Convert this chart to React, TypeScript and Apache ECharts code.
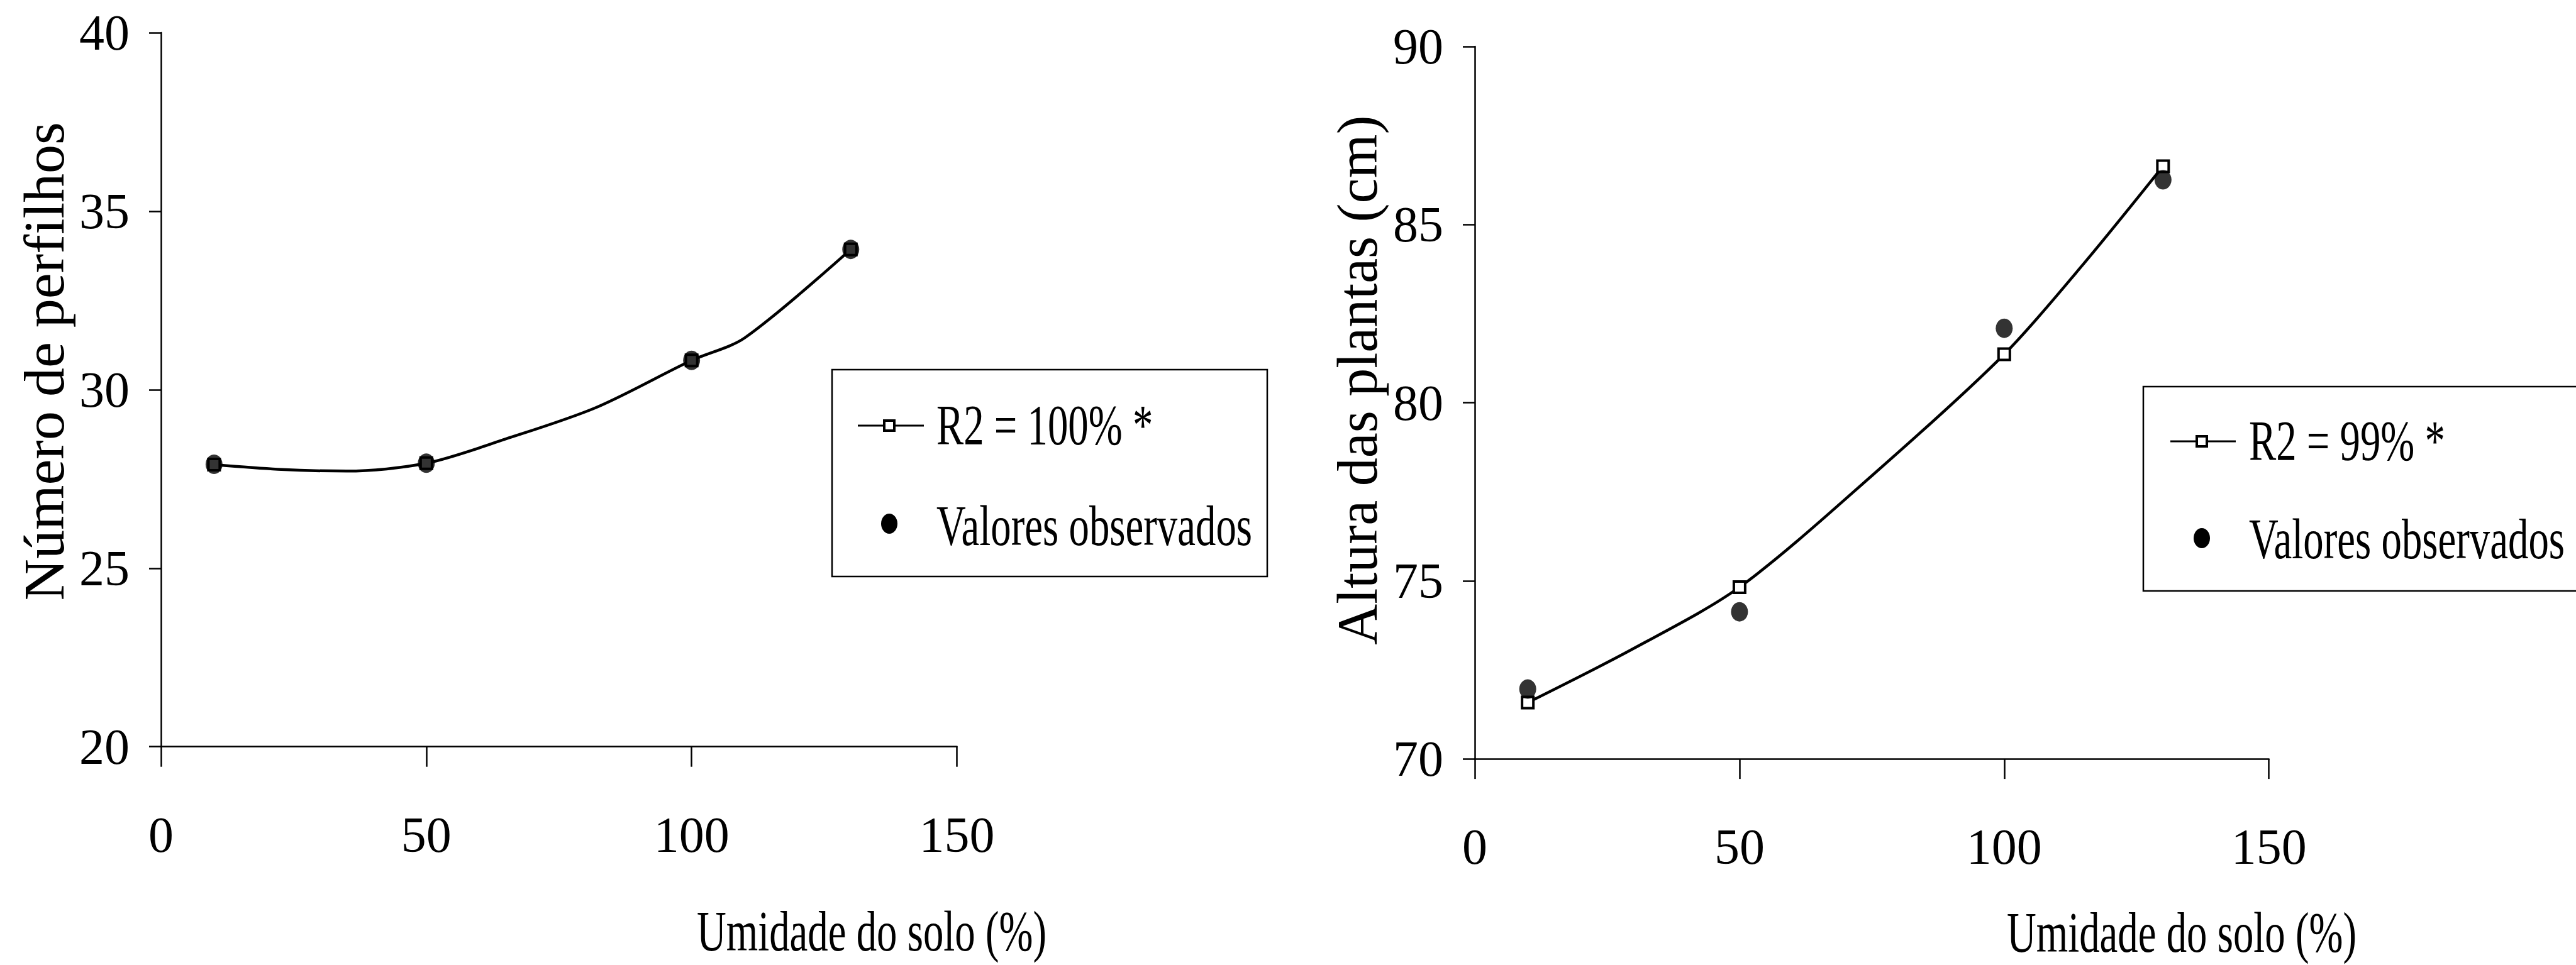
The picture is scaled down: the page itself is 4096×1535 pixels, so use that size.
import React, { useEffect, useRef } from "react";
import * as echarts from "echarts";

// ---------- data ----------
const xTicks = [0, 50, 100, 150];
const leftYTicks = [20, 25, 30, 35, 40];
const rightYTicks = [70, 75, 80, 85, 90];

const humidity = [10, 50, 100, 130];

// left panel: number of tillers
const tillersObserved = [27.91, 27.94, 30.82, 33.93];
const tillersFitX = [10, 22, 35, 50, 65, 82, 100, 110, 130];
const tillersFitY = [27.9, 27.77, 27.72, 27.94, 28.62, 29.5, 30.82, 31.45, 33.93];

// right panel: plant height
const heightObserved = [71.96, 74.13, 82.09, 86.26];
const heightFitX = [10, 30, 50, 75, 100, 115, 130];
const heightFitY = [71.58, 73.1, 74.82, 77.95, 81.36, 83.9, 86.64];

const leftYTitle = "Número de perfilhos";
const rightYTitle = "Altura das plantas (cm)";
const xTitle = "Umidade do solo (%)";
const leftFitName = "R2 = 100% *";
const rightFitName = "R2 = 99% *";
const obsName = "Valores observados";

const FONT = "'Liberation Serif', 'Times New Roman', serif";

function fitData(xs: number[], ys: number[]) {
  return xs.map((x, i) =>
    humidity.includes(x)
      ? { value: [x, ys[i]] }
      : { value: [x, ys[i]], symbol: "none" }
  );
}

function obsData(ys: number[]) {
  return humidity.map((x, i) => [x, ys[i]]);
}

function axisX(gridIndex: number) {
  return {
    type: "value",
    gridIndex,
    min: xTicks[0],
    max: xTicks[xTicks.length - 1],
    interval: 50,
    axisLine: { show: true, lineStyle: { color: "#000", width: 2.5 } },
    axisTick: { show: true, length: 32, lineStyle: { color: "#000", width: 2.5 } },
    splitLine: { show: false },
    axisLabel: {
      color: "#000",
      fontFamily: FONT,
      fontSize: 80,
      margin: 100,
    },
  };
}

function axisY(
  gridIndex: number,
  ticks: number[],
  name: string,
  nameGap: number,
  shift: number,
  size: number
) {
  return {
    type: "value",
    gridIndex,
    min: ticks[0],
    max: ticks[ticks.length - 1],
    interval: 5,
    name,
    nameLocation: "middle",
    nameGap,
    nameTextStyle: {
      color: "#000",
      fontFamily: FONT,
      fontSize: size,
      padding: [0, 0, 0, shift * 2],
    },
    axisLine: { show: true, lineStyle: { color: "#000", width: 2.5 } },
    axisTick: { show: true, length: 19, lineStyle: { color: "#000", width: 2.5 } },
    splitLine: { show: false },
    axisLabel: {
      color: "#000",
      fontFamily: FONT,
      fontSize: 80,
      margin: 50,
    },
  };
}

function condensedText(text: string, x: number, y: number, align: string = "left") {
  return {
    type: "text",
    x,
    y,
    scaleX: 0.72,
    z: 50,
    style: {
      text,
      fill: "#000",
      fontFamily: FONT,
      fontSize: 90,
      align,
      textAlign: align,
      verticalAlign: "middle",
      textVerticalAlign: "middle",
    },
  };
}

function legendBlock(
  box: { x: number; y: number; w: number; h: number },
  lineX1: number,
  lineX2: number,
  lineY: number,
  markX: number,
  dotY: number,
  textX: number,
  text1Y: number,
  text2Y: number,
  fitName: string
) {
  return [
    {
      type: "rect",
      z: 40,
      shape: { x: box.x, y: box.y, width: box.w, height: box.h },
      style: { fill: "#fff", stroke: "#000", lineWidth: 2.5 },
    },
    {
      type: "line",
      z: 45,
      shape: { x1: lineX1, y1: lineY, x2: lineX2, y2: lineY },
      style: { stroke: "#000", lineWidth: 3 },
    },
    {
      type: "rect",
      z: 46,
      shape: { x: markX - 8, y: lineY - 8, width: 16, height: 16 },
      style: { fill: "#fff", stroke: "#000", lineWidth: 4 },
    },
    {
      type: "ellipse",
      z: 46,
      shape: { cx: markX, cy: dotY, rx: 13, ry: 16 },
      style: { fill: "#000" },
    },
    condensedText(fitName, textX, text1Y),
    condensedText(obsName, textX, text2Y),
  ];
}

export default function App() {
  const ref = useRef<HTMLDivElement>(null);

  useEffect(() => {
    document.body.style.margin = "0";
    if (!ref.current) return;
    const chart = echarts.init(ref.current, undefined, { renderer: "svg" });

    const fitSeriesStyle = {
      type: "line",
      smooth: 0.3,
      symbol: "rect",
      symbolSize: 18,
      showAllSymbol: true,
      lineStyle: { color: "#000", width: 4.5 },
      itemStyle: { color: "#fff", borderColor: "#000", borderWidth: 4 },
      z: 3,
    };
    const obsSeriesStyle = {
      type: "scatter",
      symbol: "circle",
      symbolSize: [27, 31],
      itemStyle: { color: "#000" },
      z: 5,
    };

    const option = {
      animation: false,
      backgroundColor: "#fff",
      grid: [
        { left: 256, top: 52, width: 1265.5, height: 1135.7, containLabel: false },
        { left: 2345, top: 74.1, width: 1262.7, height: 1133, containLabel: false },
      ],
      xAxis: [axisX(0), axisX(1)],
      yAxis: [
        axisY(0, leftYTicks, leftYTitle, 140, 45, 92),
        axisY(1, rightYTicks, rightYTitle, 142, 36, 90),
      ],
      series: [
        {
          ...fitSeriesStyle,
          name: leftFitName,
          xAxisIndex: 0,
          yAxisIndex: 0,
          data: fitData(tillersFitX, tillersFitY),
        },
        {
          ...obsSeriesStyle,
          name: obsName,
          xAxisIndex: 0,
          yAxisIndex: 0,
          data: obsData(tillersObserved),
        },
        {
          ...fitSeriesStyle,
          name: rightFitName,
          xAxisIndex: 1,
          yAxisIndex: 1,
          data: fitData(heightFitX, heightFitY),
        },
        {
          ...obsSeriesStyle,
          name: obsName,
          xAxisIndex: 1,
          yAxisIndex: 1,
          data: obsData(heightObserved),
        },
      ],
      graphic: [
        condensedText(xTitle, 1386, 1482, "center"),
        condensedText(xTitle, 3469, 1484, "center"),
        ...legendBlock(
          { x: 1323, y: 588, w: 692, h: 329 },
          1364, 1469, 677, 1414, 833, 1489, 677, 837, leftFitName
        ),
        ...legendBlock(
          { x: 3408, y: 615, w: 760, h: 325 },
          3451, 3555, 702, 3501, 856, 3576, 702, 858, rightFitName
        ),
      ],
    };

    chart.setOption(option as any);
    return () => chart.dispose();
  }, []);

  return <div ref={ref} style={{ width: 4096, height: 1535 }} />;
}
